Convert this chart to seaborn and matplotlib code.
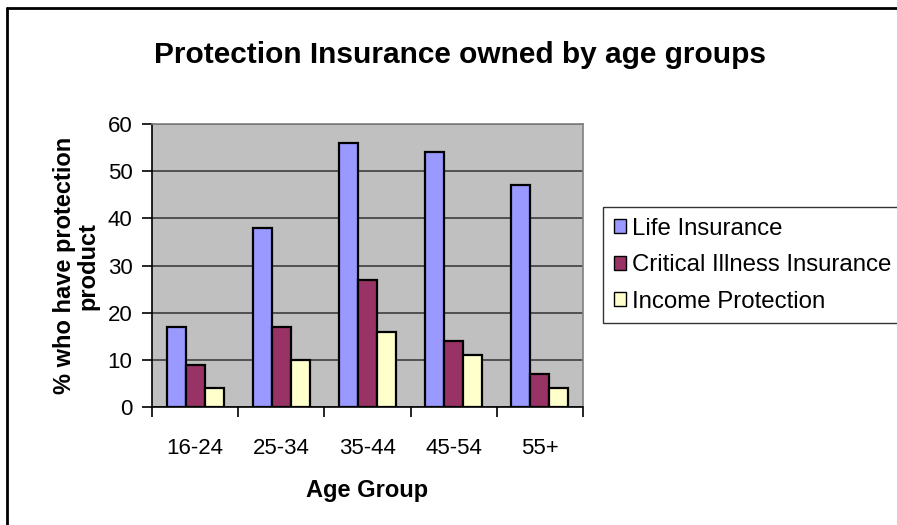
import matplotlib
matplotlib.use("Agg")
import matplotlib.pyplot as plt
import seaborn as sns
import pandas as pd
from matplotlib.lines import Line2D

age_groups = ["16-24", "25-34", "35-44", "45-54", "55+"]
life_insurance = [17, 38, 56, 54, 47]
critical_illness = [9, 17, 27, 14, 7]
income_protection = [4, 10, 16, 11, 4]
series_names = ["Life Insurance", "Critical Illness Insurance", "Income Protection"]
colors = ["#9999FF", "#993366", "#FFFFCC"]
y_ticks = [0, 10, 20, 30, 40, 50, 60]

rows = []
for name, vals in zip(series_names, [life_insurance, critical_illness, income_protection]):
    for g, v in zip(age_groups, vals):
        rows.append({"Age Group": g, "Series": name, "Value": v})
df = pd.DataFrame(rows)

sns.set_theme(style="white")
plt.rcParams["font.family"] = ["Liberation Sans", "DejaVu Sans"]

W, H = 897, 525
fig = plt.figure(figsize=(W / 100, H / 100), dpi=100)
ax = fig.add_axes([152 / W, 1 - 407 / H, (583 - 152) / W, (407 - 124) / H])
ax.set_facecolor("#C0C0C0")

sns.barplot(data=df, x="Age Group", y="Value", hue="Series", order=age_groups,
            hue_order=series_names, palette=colors, width=0.66, gap=0,
            edgecolor="black", linewidth=1.6, saturation=1, ax=ax, legend=False)

ax.set_ylim(0, 60)
ax.set_xlim(-0.5, len(age_groups) - 0.5)
ax.set_yticks(y_ticks)
ax.yaxis.grid(True, color="#333333", linewidth=1.1)
ax.set_axisbelow(True)
for s in ["top", "right"]:
    ax.spines[s].set_color("#808080")
    ax.spines[s].set_linewidth(1.2)
for s in ["left", "bottom"]:
    ax.spines[s].set_color("black")
    ax.spines[s].set_linewidth(1.2)

ax.tick_params(axis="y", which="major", length=7, width=1.2, color="black",
               direction="out", left=True, labelsize=16, pad=7, labelcolor="black")
ax.tick_params(axis="x", which="major", length=0, labelsize=16, pad=22, labelcolor="black")
ax.set_xticks([i + 0.5 for i in range(-1, len(age_groups))], minor=True)
ax.tick_params(axis="x", which="minor", length=7, width=1.2, color="black",
               direction="out", bottom=True)

ax.set_xlabel("Age Group", fontsize=17, fontweight="bold", labelpad=15, color="black")
ax.set_ylabel("% who have protection\nproduct", fontsize=17, fontweight="bold",
              labelpad=6, color="black", linespacing=1.0)

fig.text(460 / W, 1 - 55 / H, "Protection Insurance owned by age groups",
         ha="center", va="center", fontsize=21.5, fontweight="bold", color="black")

handles = [plt.Rectangle((0, 0), 1, 1, facecolor=c, edgecolor="black", linewidth=1)
           for c in colors]
leg = fig.legend(handles, series_names, loc="upper left",
                 bbox_to_anchor=(603 / W, 1 - 207 / H), fontsize=17.3,
                 frameon=True, fancybox=False, handlelength=0.5, handleheight=0.5,
                 handletextpad=0.25, labelspacing=0.6, borderpad=0.45,
                 borderaxespad=0)
leg.get_frame().set_edgecolor("black")
leg.get_frame().set_linewidth(1)
for t in leg.get_texts():
    t.set_color("black")

fig.add_artist(Line2D([7 / W, 7 / W], [0, 1 - 8 / H], transform=fig.transFigure,
                      color="black", linewidth=2))
fig.add_artist(Line2D([7 / W, 1], [1 - 8 / H, 1 - 8 / H], transform=fig.transFigure,
                      color="black", linewidth=2))

fig.savefig("out.png", dpi=100)
